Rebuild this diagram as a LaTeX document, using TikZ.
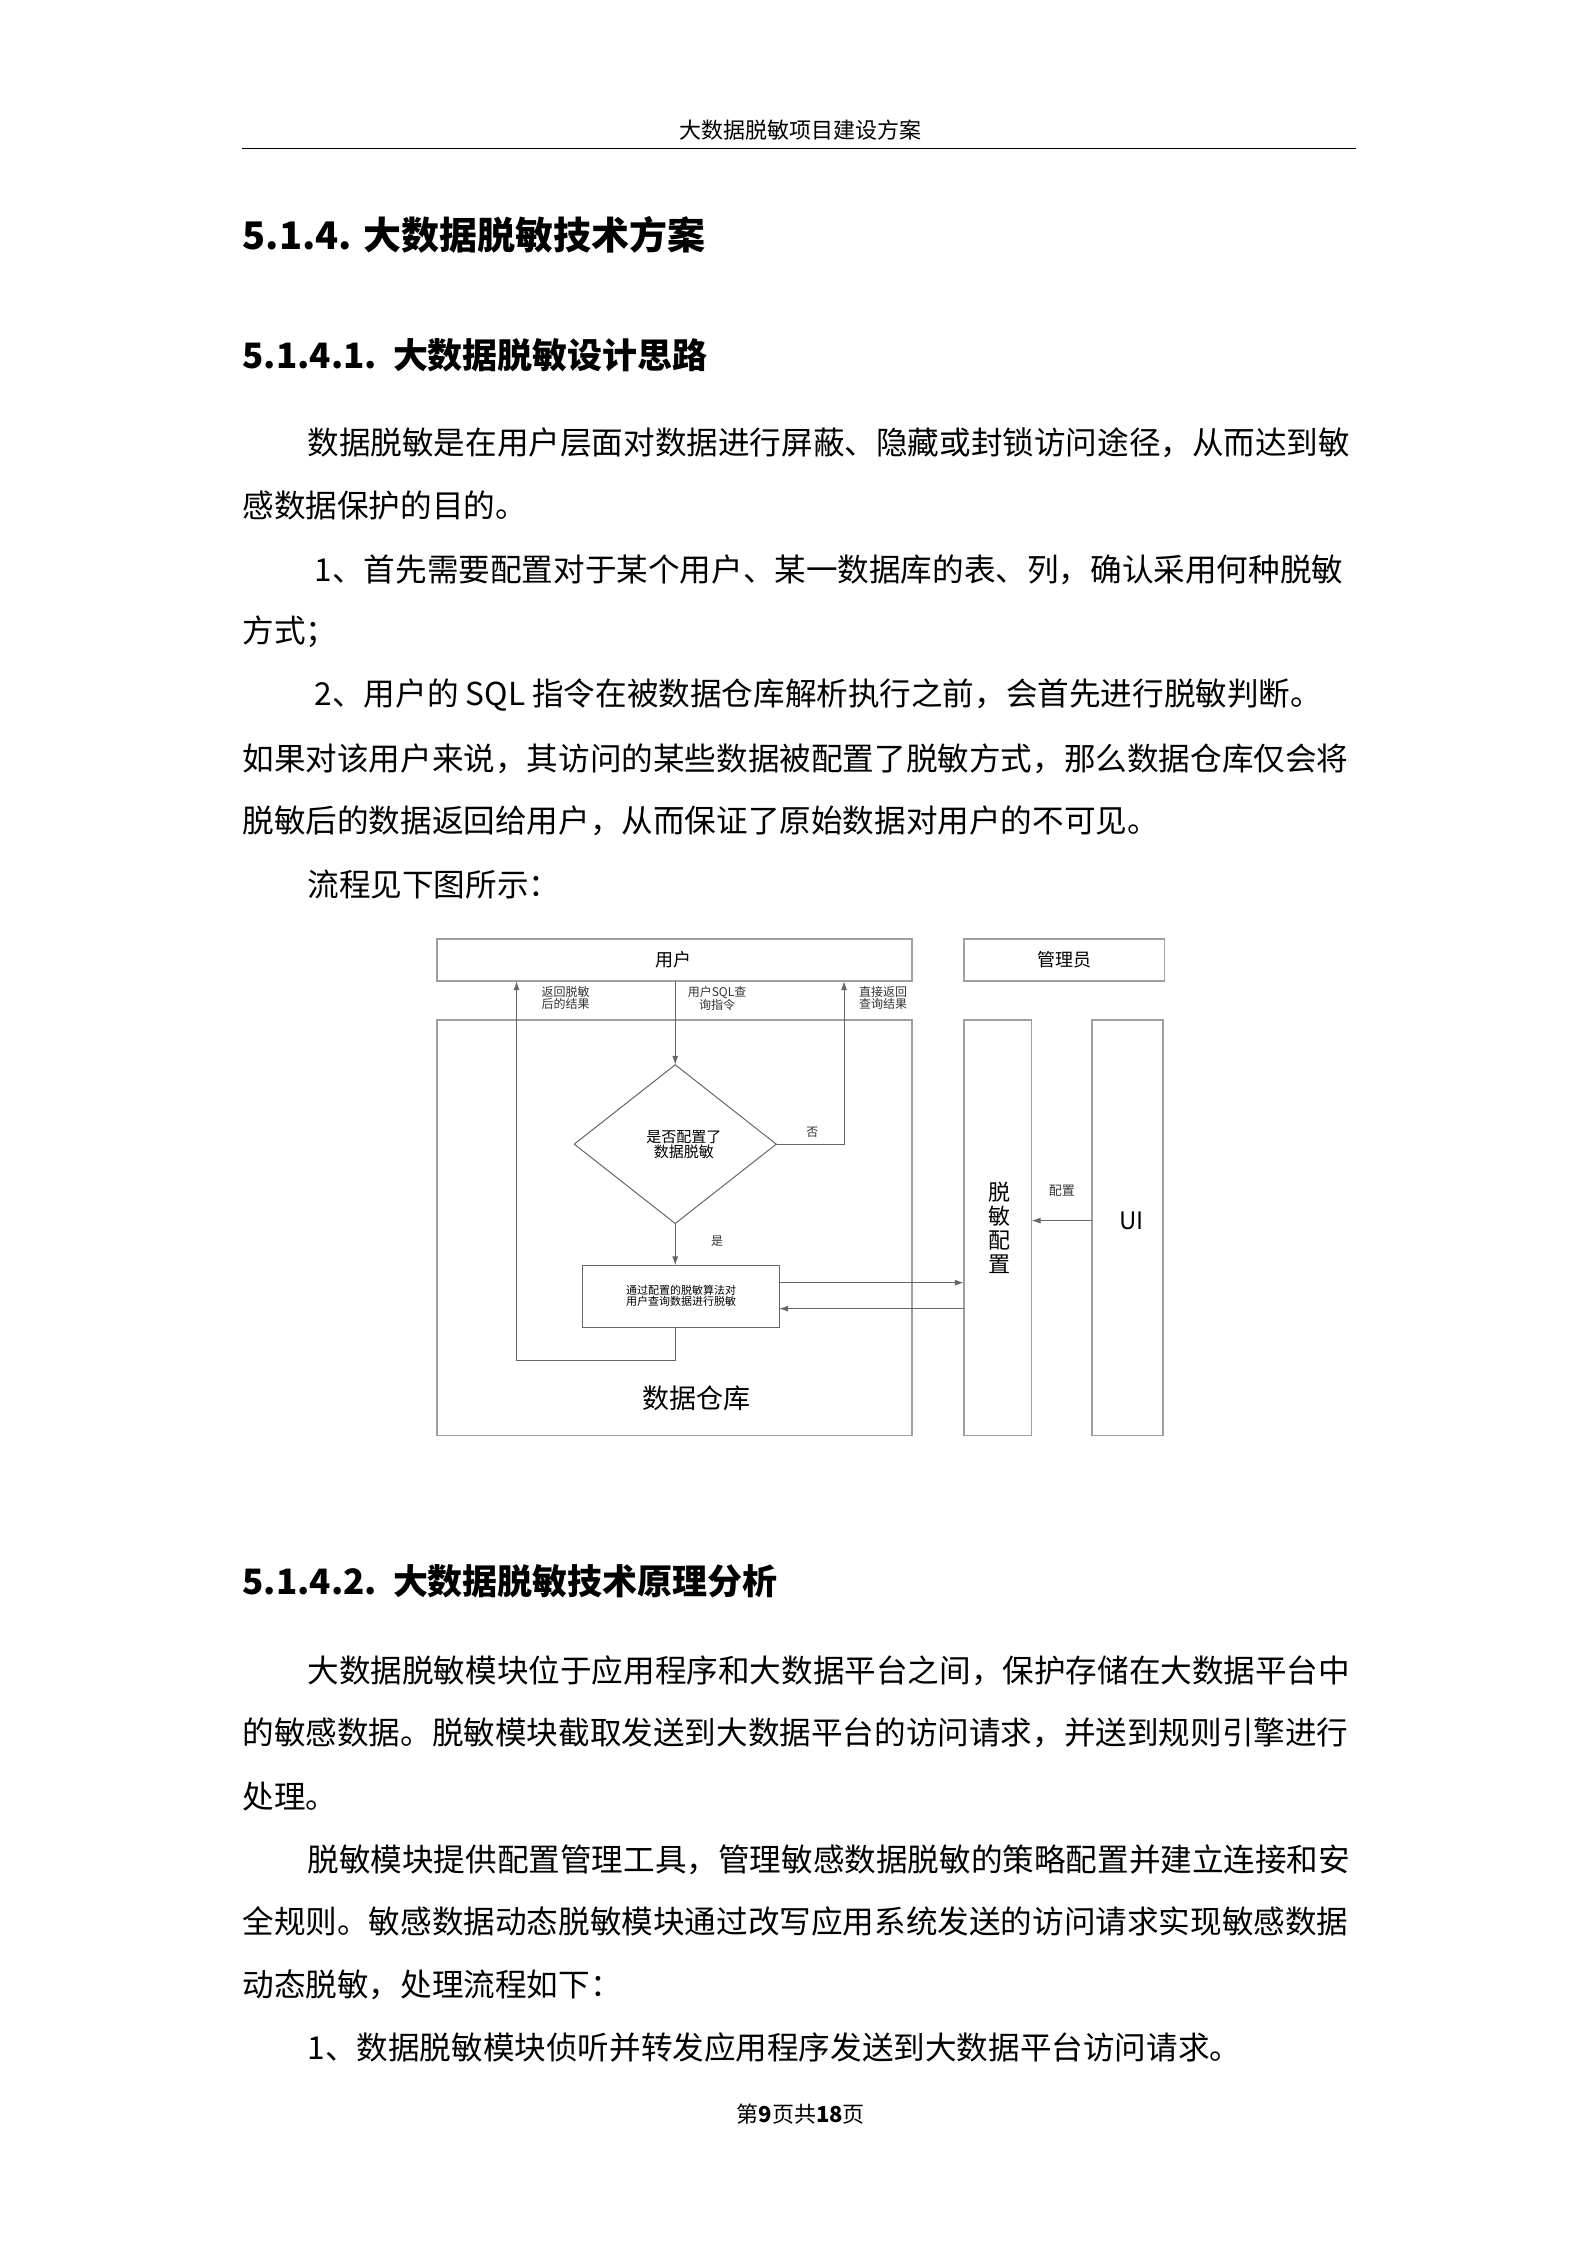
\documentclass[tikz,border=0pt]{standalone}
\usepackage{fontspec}
\setmainfont{Noto Sans CJK SC}
\usetikzlibrary{arrows.meta,shapes.geometric}
\newcommand{\fs}[1]{\fontsize{#1}{#1}\selectfont}
\begin{document}
\begin{tikzpicture}[x=1.443pt,y=-1.443pt,
 body/.style={anchor=west,inner sep=0,font=\fs{31.6}},
 sec/.style={anchor=west,inner sep=0,font=\fs{35}\bfseries},
 bx/.style={draw=gray!75,line width=1.6pt},
 ln/.style={draw=gray!80!black,line width=1pt},
 arr/.style={ln,-{Latex[length=9pt,width=6pt]}},
 sm/.style={font=\fs{12},inner sep=0,align=center,text=black!80}]
\useasboundingbox (0,0) rectangle (1100,1556);
% header
\node[font=\fs{22}] (hd) at (555,90) {大数据脱敏项目建设方案};
\draw[line width=1.4pt] (168,103) -- (940,103);
\node[sec,font=\fs{38}\bfseries] (h1) at (168,163) {5.1.4. 大数据脱敏技术方案};
\node[sec] (h2) at (168,246) {5.1.4.1.\ \ 大数据脱敏设计思路};
\node[body] at (213,307) {数据脱敏是在用户层面对数据进行屏蔽、隐藏或封锁访问途径，从而达到敏};
\node[body] at (168,350) {感数据保护的目的。};
\node[body] at (218,395) {1、首先需要配置对于某个用户、某一数据库的表、列，确认采用何种脱敏};
\node[body] at (168,438) {方式；};
\node[body] at (218,482) {2、用户的 SQL 指令在被数据仓库解析执行之前，会首先进行脱敏判断。};
\node[body] at (168,526) {如果对该用户来说，其访问的某些数据被配置了脱敏方式，那么数据仓库仅会将};
\node[body] at (168,569) {脱敏后的数据返回给用户，从而保证了原始数据对用户的不可见。};
\node[body] at (213,613) {流程见下图所示：};
% diagram
\draw[bx] (303,651) rectangle (632,680);
\node[font=\fs{18}] (user) at (467,665) {用户};
\draw[bx] (668,651) rectangle (807,680);
\node[font=\fs{18}] (adm) at (738,665) {管理员};
\draw[bx] (303,707) rectangle (632,995);
\node[font=\fs{27}] (dw) at (483,969) {数据仓库};
\draw[bx] (668,707) rectangle (715,995);
\node[font=\fs{22},align=center,inner sep=0] (tm) at (693,851) {脱\\[2pt]敏\\[2pt]配\\[2pt]置};
\draw[bx] (757,707) rectangle (806,995);
\node[font=\fs{24}] (ui) at (784,846) {UI};
\draw[ln] (398,793) -- (468,738) -- (538,793) -- (468,848) -- cycle;
\coordinate (dT) at (468,738); \coordinate (dB) at (468,848); \coordinate (dR) at (538,793);
\node[font=\fs{15},align=center,inner sep=0] (dtx) at (474,793) {是否配置了\\数据脱敏};
\draw[ln] (404,877) rectangle (540,920);
\node[font=\fs{11},align=center,inner sep=0] (alg) at (472,898) {通过配置的脱敏算法对\\用户查询数据进行脱敏};
\coordinate (uB) at (468,680);
\draw[arr] (uB) -- (dT);
\draw[arr] (dB) -- (468,877);
\node[sm] at (497,860) {是};
\coordinate (nr) at (585,680);
\draw[arr] (dR) -- (585,793) -- (nr);
\node[sm] at (563,785) {否};
\draw[arr] (468,920) -- (468,943) -- (358,943) -- (358,680);
\node[sm] at (392,692) {返回脱敏\\后的结果};
\node[sm] at (497,692) {用户SQL查\\询指令};
\node[sm] at (612,692) {直接返回\\查询结果};
\draw[arr] (540,889) -- (668,889);
\draw[arr] (668,907) -- (540,907);
\draw[arr] (757,846) -- (715,846);
\node[sm,font=\fs{13}] at (736,825) {配置};
% section 2
\node[sec] (h3) at (168,1096) {5.1.4.2.\ \ 大数据脱敏技术原理分析};
\node[body] at (213,1158) {大数据脱敏模块位于应用程序和大数据平台之间，保护存储在大数据平台中};
\node[body] at (168,1201) {的敏感数据。脱敏模块截取发送到大数据平台的访问请求，并送到规则引擎进行};
\node[body] at (168,1245) {处理。};
\node[body] at (213,1289) {脱敏模块提供配置管理工具，管理敏感数据脱敏的策略配置并建立连接和安};
\node[body] at (168,1332) {全规则。敏感数据动态脱敏模块通过改写应用系统发送的访问请求实现敏感数据};
\node[body] at (168,1376) {动态脱敏，处理流程如下：};
\node[body] at (213,1419) {1、数据脱敏模块侦听并转发应用程序发送到大数据平台访问请求。};
\node[font=\fs{22}] (ft) at (555,1465) {第\textbf{9}页共\textbf{18}页};
\end{tikzpicture}
\end{document}
